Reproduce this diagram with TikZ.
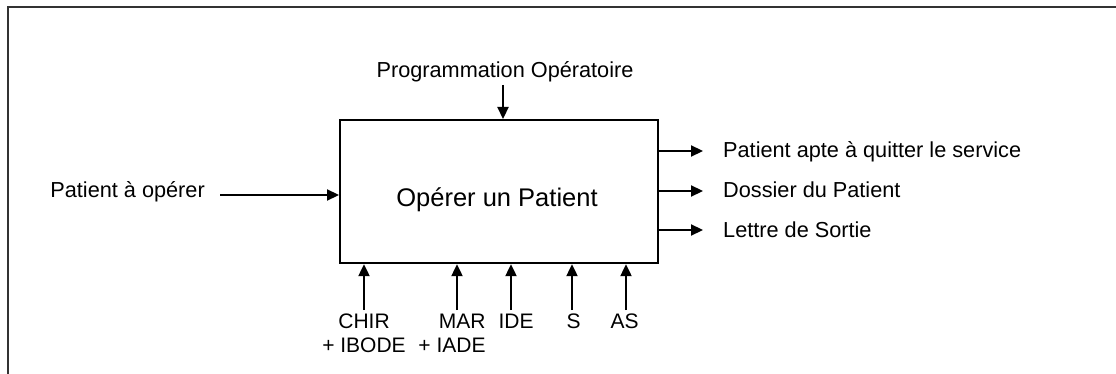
\documentclass[tikz,border=0pt]{standalone}
\usepackage{fontspec}
\setmainfont{Liberation Sans}
\usetikzlibrary{arrows.meta}
\begin{document}
\begin{tikzpicture}[x=1pt, y=-1pt,
  lbl/.style={font=\fontsize{21.7}{24}\selectfont, inner sep=0pt},
  botlbl/.style={font=\fontsize{21}{24}\selectfont, inner sep=0pt, anchor=north},
  titlefont/.style={font=\fontsize{25.5}{28}\selectfont, inner sep=0pt},
  arr/.style={line width=2.2pt, -{Triangle[length=12pt,width=11pt]}},
  frame/.style={line width=2.6pt, draw=black!80},
  activity/.style={draw, line width=2.2pt, inner sep=0pt,
    minimum width=318pt, minimum height=143pt, anchor=north west}]
\useasboundingbox (0,0) rectangle (1116,374);
\clip (0,0) rectangle (1116,374);

% outer frame
\draw[frame] (8,380) -- (8,7) -- (1125,7);

% activity box and its title
\node[activity] (box) at (339,119) {};
\node[titlefont, anchor=base] (title) at (497,207) {Opérer un Patient};

% control (top)
\node[lbl, anchor=base] (prog) at (505,78) {Programmation Opératoire};
\path ([xshift=-2pt,yshift=-7pt]prog.base) coordinate (progA);
\draw[arr] (progA) -- (progA |- box.north);

% input (left)
\node[lbl, anchor=base east] (in) at (205,198) {Patient à opérer};
\path ([xshift=15pt,yshift=3pt]in.base east) coordinate (inA);
\draw[arr] (inA) -- (inA -| box.west);

% outputs (right)
\node[lbl, anchor=base west] (o1) at (723,158) {Patient apte à quitter le service};
\node[lbl, anchor=base west] (o2) at (723,198) {Dossier du Patient};
\node[lbl, anchor=base west] (o3) at (723,237) {Lettre de Sortie};
\foreach \o in {o1,o2,o3}{
  \path ([xshift=-20pt,yshift=7pt]\o.base west) coordinate (\o A);
  \draw[arr] (\o A -| box.east) -- (\o A);
}

% mechanisms (bottom)
\node[botlbl, align=center] (chir) at (364,314) {CHIR\\+ IBODE};
\node[botlbl, align=right]  (mar)  at (452,314) {MAR\\+ IADE};
\node[botlbl] (ide) at (516,314) {IDE};
\node[botlbl] (s)   at (573.5,314) {S};
\node[botlbl] (as)  at (624.5,314) {AS};
\path ([yshift=4pt]chir.north) coordinate (chirA);
\path ([xshift=5pt,yshift=4pt]mar.north) coordinate (marA);
\path ([xshift=-5pt,yshift=4pt]ide.north) coordinate (ideA);
\path ([xshift=-1.5pt,yshift=4pt]s.north) coordinate (sA);
\path ([xshift=1.5pt,yshift=4pt]as.north) coordinate (asA);
\foreach \m in {chirA,marA,ideA,sA,asA}{
  \draw[arr] (\m) -- (\m |- box.south);
}
\end{tikzpicture}
\end{document}
